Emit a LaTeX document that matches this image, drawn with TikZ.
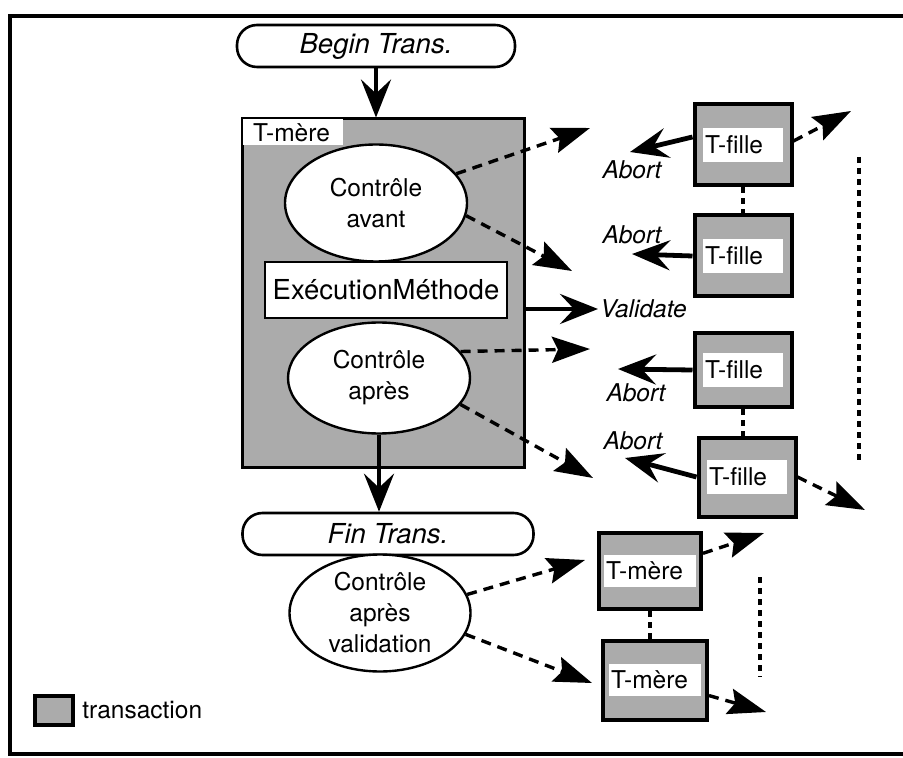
\documentclass[tikz,border=0pt]{standalone}
\usepackage{fontspec}
\setmainfont{TeX Gyre Heros}
\usetikzlibrary{arrows.meta, shapes.geometric}

\begin{document}
\begin{tikzpicture}[x=0.5pt,y=-0.5pt,>={Stealth[length=19pt,width=15pt,inset=7pt]}]
    \tikzset{
      every node/.style={font=\fontsize{12.25}{15.5}\selectfont},
      trans/.style={draw,line width=2pt,fill=black!33,inner sep=0pt},
      band/.style={fill=white,inner xsep=1pt,inner ysep=0pt,minimum height=17pt},
      ctrl/.style={ellipse,draw,line width=1.2pt,fill=white,align=center,inner sep=0pt},
      limit/.style={rectangle,rounded corners=10pt,draw,line width=1.3pt,minimum height=21pt,
                    font=\fontsize{13.75}{16}\selectfont\itshape},
      lbl/.style={font=\fontsize{12.25}{15}\selectfont\itshape,inner sep=1pt},
      solidarrow/.style={->,line width=2.4pt},
      dasharrow/.style={-{Stealth[length=19pt,width=13pt,inset=3pt]},line width=1.7pt,dash pattern=on 5pt off 3.5pt},
      link/.style={line width=1.6pt,dash pattern=on 3pt off 2.5pt}
    }

    \useasboundingbox (0,0) rectangle (903,758);
    \draw[line width=2pt] (10,16) rectangle (930,754);

    % left column
    \node[limit,minimum width=139pt] (begin) at (376,46) {Begin Trans.};
    \node[trans,line width=1.5pt,minimum width=141pt,minimum height=174pt] (tmere) at (383.5,293) {};
    \node[fill=white,anchor=north west,inner xsep=5pt,inner ysep=0pt,text width=40pt,minimum height=13pt]
        (tmerelbl) at ([shift={(0.8pt,-0.8pt)}]tmere.north west) {T-mère};
    \node[ctrl,minimum width=91pt,minimum height=58.5pt] (avant) at (376,203) {Contrôle\\avant};
    \node[draw,fill=white,line width=1.3pt,minimum width=121pt,minimum height=28pt,
          font=\fontsize{13.75}{16}\selectfont] (exec) at (386,290) {ExécutionMéthode};
    \node[ctrl,minimum width=91pt,minimum height=55.5pt] (apres) at (379,378) {Contrôle\\après};
    \node[limit,minimum width=145.5pt] (fin) at (388,534) {Fin Trans.};
    \node[ctrl,inner ysep=-2pt,minimum width=90.5pt,minimum height=58.5pt] (valid) at (380,613) {Contrôle\\après\\validation};

    % right column
    \node[trans,minimum width=48.5pt,minimum height=40.5pt] (f1) at (743,145) {};
    \node[band,text width=38pt] (f1t) at (f1) {T-fille};
    \node[trans,minimum width=48.5pt,minimum height=40.5pt] (f2) at (743,256) {};
    \node[band,text width=38pt] (f2t) at (f2) {T-fille};
    \node[trans,minimum width=48.5pt,minimum height=37pt] (f3) at (743,370) {};
    \node[band,text width=38pt] (f3t) at (f3) {T-fille};
    \node[trans,minimum width=48.5pt,minimum height=39.5pt] (f4) at (747,477) {};
    \node[band,text width=38pt] (f4t) at (f4) {T-fille};
    \node[trans,minimum width=51pt,minimum height=38pt] (m1) at (650,571) {};
    \node[band,text width=44pt,minimum height=16pt] (m1t) at (m1) {T-mère};
    \node[trans,minimum width=52pt,minimum height=39.5pt] (m2) at (655,680) {};
    \node[band,text width=44pt,minimum height=16pt] (m2t) at (m2) {T-mère};

    % legend
    \node[trans,minimum width=19pt,minimum height=14.5pt] (leg) at (54,710) {};
    \node[anchor=west,inner sep=0pt] (legtxt) at (82,710) {transaction};

    % free ends
    \coordinate (a1) at (590,128);
    \coordinate (a2) at (572,271);
    \coordinate (val) at (598,309);
    \coordinate (a3) at (590,349);
    \coordinate (a4) at (593,478);
    \coordinate (v1) at (585,560);
    \coordinate (v2) at (592,683);
    \coordinate (f1out) at (851,111);
    \coordinate (f4out) at (865,510);
    \coordinate (m1out) at (764,533);
    \coordinate (m2out) at (766,712);
    \coordinate (ab1) at (630,152);
    \coordinate (ab2) at (632,254);
    \coordinate (ab3) at (618,369);
    \coordinate (ab4) at (625,458);
    \coordinate (d1) at (859,157);
    \coordinate (d2) at (859,462);
    \coordinate (d3) at (760,577);
    \coordinate (d4) at (760,677);

    \node[lbl] (ab1lbl) at (632,170) {Abort};
    \node[lbl] (ab2lbl) at (632,235) {Abort};
    \node[lbl] (ab3lbl) at (636,393) {Abort};
    \node[lbl] (ab4lbl) at (633,441) {Abort};
    \node[lbl,anchor=west] (vallbl) at (val) {Validate};

    \draw[solidarrow] (begin) -- (begin |- tmere.north);
    \draw[solidarrow] (apres) -- (apres |- fin.north);
    \draw[solidarrow] (tmere.east |- val) -- (val);
    \draw[dasharrow] (avant.20) -- (a1);
    \draw[dasharrow] (avant.-8) -- (a2);
    \draw[dasharrow] (apres.18) -- (a3);
    \draw[dasharrow] (apres.-18) -- (a4);
    \draw[dasharrow] (valid.12) -- (v1);
    \draw[dasharrow] (valid.-14) -- (v2);

    \draw[solidarrow] ([yshift=4pt]f1.west) -- (ab1);
    \draw[solidarrow] (f2.west) -- (ab2);
    \draw[solidarrow] (f3.west) -- (ab3);
    \draw[solidarrow] (f4.west) -- (ab4);
    \draw[dasharrow] ([yshift=2pt]f1.east) -- (f1out);
    \draw[dasharrow] (f4.east) -- (f4out);
    \draw[dasharrow] (m1) -- (m1out);
    \draw[dasharrow] (m2) -- (m2out);

    \draw[link] (f1.south) -- (f2.north);
    \draw[link] (f3.south) -- (f3.south |- f4.north);
    \draw[link] (m1.south) -- (m1.south |- m2.north);
    \draw[link] (d1) -- (d2);
    \draw[link] (d3) -- (d4);
\end{tikzpicture}
\end{document}
